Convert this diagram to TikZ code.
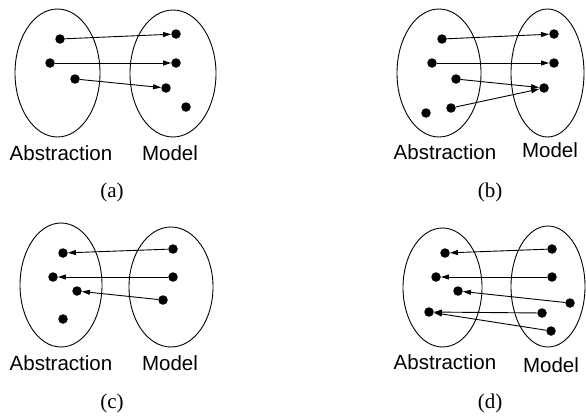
\documentclass[tikz,border=0pt]{standalone}
\usepackage{fontspec}
\setmainfont{Liberation Serif}
\setsansfont{Liberation Sans}
\usetikzlibrary{arrows.meta}
\tikzset{
  dot/.style={circle, fill=black, inner sep=0pt, minimum size=9.5pt},
  set/.style={draw=black, line width=0.9pt},
  maparrow/.style={line width=0.9pt, -{Triangle[length=8pt,width=5pt]}},
  setlabel/.style={font=\sffamily\fontsize{20.5}{24}\selectfont, inner sep=0pt},
  caption/.style={font=\rmfamily\fontsize{21}{25}\selectfont, inner sep=0pt}
}
\begin{document}
\begin{tikzpicture}[x=1pt, y=-1pt]
\useasboundingbox (0,0) rectangle (586,415);

% ---------- (a): injective mapping from abstraction into model ----------
\draw[set] (57.5,73) ellipse [x radius=42.5, y radius=64];
\draw[set] (173,73.5) ellipse [x radius=43, y radius=63.5];
\node[dot] (aA1) at (60,39) {};
\node[dot] (aA2) at (50,63) {};
\node[dot] (aA3) at (75,79) {};
\node[dot] (aM1) at (176,34) {};
\node[dot] (aM2) at (176,63) {};
\node[dot] (aM3) at (166,88) {};
\node[dot] (aM4) at (186,107) {};
\draw[maparrow] (aA1) -- (aM1);
\draw[maparrow] (aA2) -- (aM2);
\draw[maparrow] (aA3) -- (aM3);
\node[setlabel] (aLa) at (61,153) {Abstraction};
\node[setlabel] (aLm) at (170,153) {Model};
\node[caption] (aCap) at (112,192) {(a)};

% ---------- (b): non-injective mapping ----------
\draw[set] (439,73) ellipse [x radius=42, y radius=64];
\draw[set] (547.5,73) ellipse [x radius=36.5, y radius=64];
\node[dot] (bA1) at (442,39) {};
\node[dot] (bA2) at (432,63) {};
\node[dot] (bA3) at (456,79) {};
\node[dot] (bA4) at (451,108) {};
\node[dot] (bA5) at (426,113) {};
\node[dot] (bM1) at (554,34) {};
\node[dot] (bM2) at (554,63) {};
\node[dot] (bM3) at (544,88) {};
\draw[maparrow] (bA1) -- (bM1);
\draw[maparrow] (bA2) -- (bM2);
\draw[maparrow] (bA3) -- (bM3);
\draw[maparrow] (bA4) -- (bM3);
\node[setlabel] (bLa) at (445,152) {Abstraction};
\node[setlabel] (bLm) at (550,150) {Model};
\node[caption] (bCap) at (490,192) {(b)};

% ---------- (c): mapping from model back to abstraction ----------
\draw[set] (61,285) ellipse [x radius=41, y radius=62];
\draw[set] (171,287) ellipse [x radius=42, y radius=60];
\node[dot] (cA1) at (63,253) {};
\node[dot] (cA2) at (53,277) {};
\node[dot] (cA3) at (77,291) {};
\node[dot] (cA4) at (63,319) {};
\node[dot] (cM1) at (173,249) {};
\node[dot] (cM2) at (173,277) {};
\node[dot] (cM3) at (163,300) {};
\draw[maparrow] (cM1) -- (cA1);
\draw[maparrow] (cM2) -- (cA2);
\draw[maparrow] (cM3) -- (cA3);
\node[setlabel] (cLa) at (61,363) {Abstraction};
\node[setlabel] (cLm) at (170,363) {Model};
\node[caption] (cCap) at (112,403) {(c)};

% ---------- (d): non-injective mapping back to abstraction ----------
\draw[set] (442.5,287.5) ellipse [x radius=39.5, y radius=59.5];
\draw[set] (548,286.5) ellipse [x radius=37, y radius=60.5];
\node[dot] (dA1) at (445,253) {};
\node[dot] (dA2) at (436,277) {};
\node[dot] (dA3) at (458,291) {};
\node[dot] (dA4) at (429,312) {};
\node[dot] (dM1) at (552,249) {};
\node[dot] (dM2) at (552,277) {};
\node[dot] (dM3) at (570,303) {};
\node[dot] (dM4) at (542,313) {};
\node[dot] (dM5) at (551,331) {};
\draw[maparrow] (dM1) -- (dA1);
\draw[maparrow] (dM2) -- (dA2);
\draw[maparrow] (dM3) -- (dA3);
\draw[maparrow] (dM4) -- (dA4);
\draw[maparrow] (dM5) -- (dA4);
\node[setlabel] (dLa) at (445,362) {Abstraction};
\node[setlabel] (dLm) at (551,365) {Model};
\node[caption] (dCap) at (490,403) {(d)};
\end{tikzpicture}
\end{document}
